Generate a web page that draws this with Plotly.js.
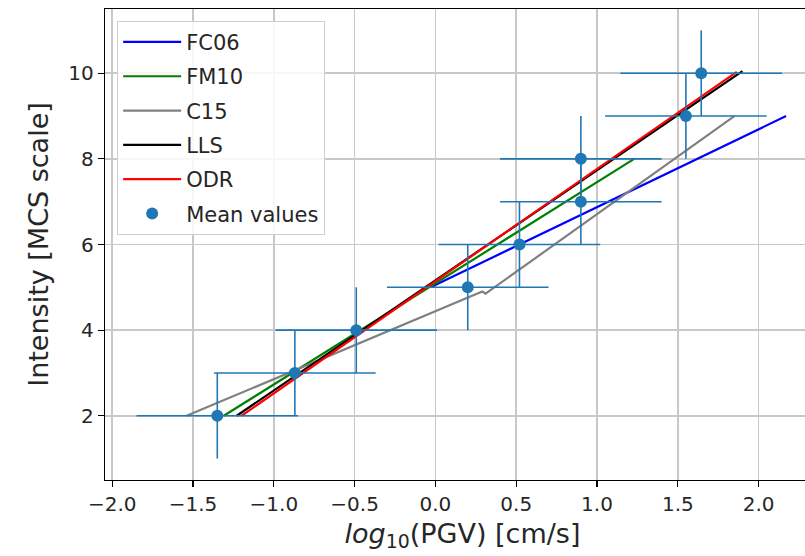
<!DOCTYPE html>
<html>
<head>
<meta charset="utf-8">
<script src="https://cdn.plot.ly/plotly-3.0.1.min.js"></script>
<style>
html, body { margin: 0; padding: 0; overflow: hidden; background: #fff; }
#chart { width: 825px; height: 556px; }
</style>
</head>
<body>
<div id="chart"></div>
<script>
// Mean values with error bars
var meanX = [-1.35, -0.87, -0.49, 0.20, 0.52, 0.90, 0.90, 1.55, 1.645];
var meanY = [2, 3, 4, 5, 6, 7, 8, 9, 10];
var meanXErr = [0.5, 0.5, 0.5, 0.5, 0.5, 0.5, 0.5, 0.5, 0.5];
var meanYErr = [1, 1, 1, 1, 1, 1, 1, 1, 1];

// Relations
var fc06X = [-0.03, 2.17];
var fc06Y = [5.0, 9.0];
var fm10X = [-1.31, 1.23];
var fm10Y = [2.0, 8.0];
var c15X = [-1.54, 0.29, 0.31, 1.85];
var c15Y = [2.0, 4.9, 4.85, 9.0];
var llsX = [-1.23, 1.90];
var llsY = [2.0, 10.05];
var odrX = [-1.20, 1.865];
var odrY = [2.0, 10.03];

var lineW = 2.2;
function lineTrace(name, x, y, color, g) {
  return {x: x, y: y, name: name, type: 'scatter', mode: 'lines',
          line: {color: color, width: lineW}, legendgroup: g};
}

var traces = [
  lineTrace('FC06', fc06X, fc06Y, '#0000ff', 'a'),
  lineTrace('FM10', fm10X, fm10Y, '#008000', 'b'),
  lineTrace('C15', c15X, c15Y, '#808080', 'c'),
  lineTrace('LLS', llsX, llsY, '#000000', 'd'),
  lineTrace('ODR', odrX, odrY, '#ff0000', 'e'),
  {
    x: meanX, y: meanY, name: 'Mean values', type: 'scatter', mode: 'markers',
    legendgroup: 'f',
    marker: {color: '#1f77b4', size: 12},
    error_x: {type: 'data', array: meanXErr, visible: true, color: '#1f77b4', thickness: 1.6, width: 0},
    error_y: {type: 'data', array: meanYErr, visible: true, color: '#1f77b4', thickness: 1.6, width: 0}
  }
];

var font = 'DejaVu Sans, sans-serif';
var layout = {
  width: 825, height: 556,
  margin: {l: 105, r: 5, t: 9, b: 76},
  paper_bgcolor: '#ffffff', plot_bgcolor: '#ffffff',
  font: {family: font, size: 20, color: '#262626'},
  showlegend: true,
  legend: {
    x: 0.017, y: 0.975, xanchor: 'left', yanchor: 'top',
    bgcolor: 'rgba(255,255,255,0.85)', bordercolor: '#d0d0d0', borderwidth: 1,
    font: {family: font, size: 21, color: '#262626'},
    traceorder: 'grouped', tracegroupgap: 4,
    itemwidth: 58, entrywidth: 142, entrywidthmode: 'pixels'
  },
  xaxis: {
    range: [-2.045, 2.38],
    tickmode: 'linear', tick0: -2, dtick: 0.5, tickformat: '.1f',
    ticks: 'outside', ticklen: 6, tickwidth: 1.2, tickcolor: '#000',
    showline: true, linecolor: '#000', linewidth: 1.3, mirror: true,
    showgrid: true, gridcolor: '#c8c8c8', gridwidth: 1.6,
    zeroline: false,
    tickfont: {family: font, size: 20, color: '#262626'},
    title: {text: '<i>log</i><sub>10</sub>(PGV) [cm/s]', font: {family: font, size: 27, color: '#262626'}, standoff: 8}
  },
  yaxis: {
    range: [0.5, 11.5],
    tickmode: 'linear', tick0: 2, dtick: 2,
    ticks: 'outside', ticklen: 6, tickwidth: 1.2, tickcolor: '#000',
    showline: true, linecolor: '#000', linewidth: 1.3, mirror: true,
    showgrid: true, gridcolor: '#c8c8c8', gridwidth: 1.6,
    zeroline: false,
    tickfont: {family: font, size: 20, color: '#262626'},
    title: {text: 'Intensity [MCS scale]', font: {family: font, size: 27, color: '#262626'}, standoff: 11}
  }
};

Plotly.newPlot('chart', traces, layout, {displayModeBar: false, staticPlot: true});
</script>
</body>
</html>
